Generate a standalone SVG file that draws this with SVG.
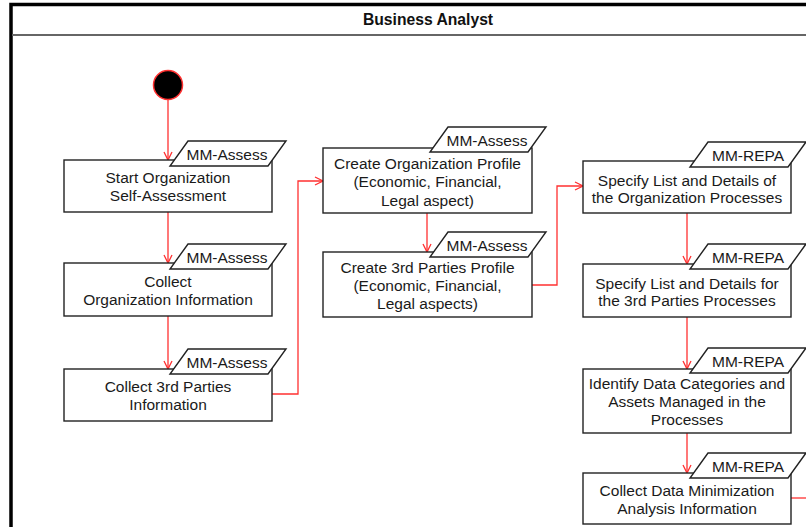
<svg xmlns="http://www.w3.org/2000/svg" width="806" height="527" viewBox="0 0 806 527">
<defs>
<marker id="arr" markerUnits="userSpaceOnUse" markerWidth="12" markerHeight="12" refX="9" refY="5" orient="auto">
<path d="M1,1 L9,5 L1,9" fill="none" stroke="#ff3030" stroke-width="1.3"/>
</marker>
<style>
.box{fill:#fff;stroke:#222;stroke-width:1.4}
.tag{fill:#fff;stroke:#222;stroke-width:1.4}
.t{font-family:"Liberation Sans",Arial,sans-serif;font-size:15.5px;fill:#1a1a1a;text-anchor:middle}
.c{fill:none;stroke:#ff3030;stroke-width:1.3}
.ca{fill:none;stroke:#ff3030;stroke-width:1.3;marker-end:url(#arr)}
</style>
</defs>
<rect width="806" height="527" fill="#fff"/>
<g id="frame">
<rect x="11" y="4.5" width="900" height="600" fill="none" stroke="#000" stroke-width="3.5"/>
<line x1="12" y1="35" x2="806" y2="35" stroke="#666" stroke-width="2"/>
<text x="428" y="25" font-family="'Liberation Sans',Arial,sans-serif" font-size="15.7" font-weight="bold" text-anchor="middle" fill="#111">Business Analyst</text>
</g>
<g id="connectors">
<line class="ca" x1="168" y1="100" x2="168" y2="160"/>
<line class="ca" x1="168" y1="212" x2="168" y2="263"/>
<line class="ca" x1="168" y1="316" x2="168" y2="369"/>
<polyline class="ca" points="272,394 298,394 298,181 323,181"/>
<line class="ca" x1="427" y1="213" x2="427" y2="252"/>
<polyline class="ca" points="532,285 557,285 557,186 583,186"/>
<line class="ca" x1="687" y1="213" x2="687" y2="264"/>
<line class="ca" x1="687" y1="317" x2="687" y2="369"/>
<line class="ca" x1="687" y1="433" x2="687" y2="473"/>
<line class="c" x1="791" y1="498" x2="806" y2="498"/>
</g>
<g id="start">
<circle cx="168" cy="85" r="14.5" fill="#000" stroke="#ff3030" stroke-width="1.5"/>
</g>
<g id="n1">
<rect class="box" x="64" y="160" width="208" height="52"/>
<polygon class="tag" points="188,141 286,141 268,166 170,166"/>
<text class="t" x="227" y="159.5">MM-Assess</text>
<text class="t" x="168" y="182.5">Start Organization</text>
<text class="t" x="168" y="200.5">Self-Assessment</text>
</g>
<g id="n2">
<rect class="box" x="64" y="263" width="208" height="53"/>
<polygon class="tag" points="188,244 286,244 268,269 170,269"/>
<text class="t" x="227" y="262.5">MM-Assess</text>
<text class="t" x="168" y="287">Collect</text>
<text class="t" x="168" y="304.5">Organization Information</text>
</g>
<g id="n3">
<rect class="box" x="64" y="369" width="208" height="52"/>
<polygon class="tag" points="188,349 286,349 268,374 170,374"/>
<text class="t" x="227" y="367.5">MM-Assess</text>
<text class="t" x="168" y="391.5">Collect 3rd Parties</text>
<text class="t" x="168" y="409.5">Information</text>
</g>
<g id="n4">
<rect class="box" x="323" y="148" width="209" height="65"/>
<polygon class="tag" points="448,127 546,127 528,152 430,152"/>
<text class="t" x="487" y="145.5">MM-Assess</text>
<text class="t" x="427.5" y="168.5">Create Organization Profile</text>
<text class="t" x="427.5" y="187">(Economic, Financial,</text>
<text class="t" x="427.5" y="205.5">Legal aspect)</text>
</g>
<g id="n5">
<rect class="box" x="323" y="252" width="209" height="65"/>
<polygon class="tag" points="448,232 546,232 528,257 430,257"/>
<text class="t" x="487" y="250.5">MM-Assess</text>
<text class="t" x="427.5" y="272.5">Create 3rd Parties Profile</text>
<text class="t" x="427.5" y="290.5">(Economic, Financial,</text>
<text class="t" x="427.5" y="308.5">Legal aspects)</text>
</g>
<g id="n6">
<rect class="box" x="583" y="161" width="208" height="52"/>
<polygon class="tag" points="708,142 806,142 788,167 690,167"/>
<text class="t" x="748" y="160.5">MM-REPA</text>
<text class="t" x="687" y="185.5">Specify List and Details of</text>
<text class="t" x="687" y="203">the Organization Processes</text>
</g>
<g id="n7">
<rect class="box" x="583" y="264" width="208" height="53"/>
<polygon class="tag" points="708,244 806,244 788,269 690,269"/>
<text class="t" x="748" y="262.5">MM-REPA</text>
<text class="t" x="687" y="288.5">Specify List and Details for</text>
<text class="t" x="687" y="306">the 3rd Parties Processes</text>
</g>
<g id="n8">
<rect class="box" x="583" y="369" width="208" height="64"/>
<polygon class="tag" points="708,348 806,348 788,373 690,373"/>
<text class="t" x="748" y="366.5">MM-REPA</text>
<text class="t" x="687" y="388.5">Identify Data Categories and</text>
<text class="t" x="687" y="406.5">Assets Managed in the</text>
<text class="t" x="687" y="424.5">Processes</text>
</g>
<g id="n9">
<rect class="box" x="583" y="473" width="208" height="51"/>
<polygon class="tag" points="708,453 806,453 788,478 690,478"/>
<text class="t" x="748" y="471.5">MM-REPA</text>
<text class="t" x="687" y="495.5">Collect Data Minimization</text>
<text class="t" x="687" y="513.5">Analysis Information</text>
</g>
</svg>
